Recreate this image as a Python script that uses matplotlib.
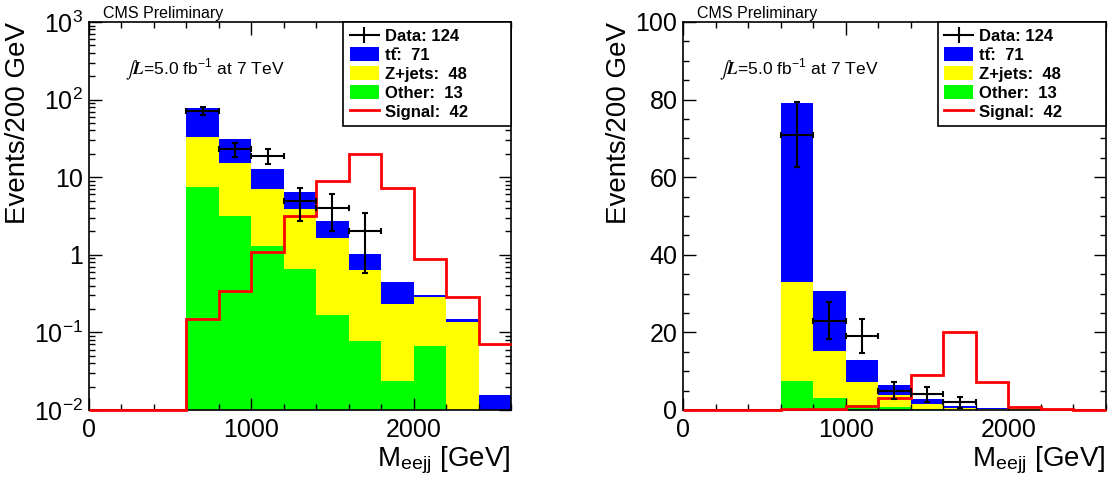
import numpy as np
import matplotlib
matplotlib.use("Agg")
import matplotlib.pyplot as plt
from matplotlib.ticker import MultipleLocator, LogLocator, FuncFormatter, NullFormatter
from matplotlib.patches import Patch
from matplotlib.lines import Line2D

plt.rcParams['font.family'] = ['Liberation Sans', 'DejaVu Sans']
plt.rcParams['mathtext.fontset'] = 'stix'

# --- data (M_eejj, 200 GeV bins from 0 to 2600) ---
bin_edges = [0, 200, 400, 600, 800, 1000, 1200, 1400, 1600, 1800, 2000, 2200, 2400, 2600]
ttbar = [0, 0, 0, 46.0, 15.5, 5.8, 2.45, 1.07, 0.39, 0.214, 0.018, 0.010, 0.0155]
zjets = [0, 0, 0, 25.5, 11.9, 5.79, 3.27, 1.49, 0.56, 0.208, 0.221, 0.137, 0]
other = [0, 0, 0, 7.5, 3.2, 1.31, 0.66, 0.166, 0.0775, 0.0239, 0.0668, 0, 0]
signal = [0, 0, 0, 0.149, 0.341, 1.08, 3.16, 8.93, 20.1, 7.26, 0.891, 0.286, 0.070]
data = [0, 0, 0, 71, 23, 19, 5, 4, 2, 0, 0, 0, 0]

legend_labels = ["Data: 124", "tt\u0304:  71", "Z+jets:  48", "Other:  13", "Signal:  42"]

edges = np.array(bin_edges, dtype=float)
lo = edges[:-1]
width = np.diff(edges)
centers = lo + width / 2
tt = np.array(ttbar); zj = np.array(zjets); ot = np.array(other)
sig = np.array(signal); dat = np.array(data, dtype=float)


def draw_panel(ax, logy):
    ymin = 0.01 if logy else 0.0
    # stack: other at bottom, then Z+jets, then ttbar
    ax.bar(lo, ot, width=width, align='edge', color='#00ff00', lw=0, zorder=1)
    ax.bar(lo, zj, width=width, bottom=ot, align='edge', color='#ffff00', lw=0, zorder=1)
    ax.bar(lo, tt, width=width, bottom=ot + zj, align='edge', color='#0000ff', lw=0, zorder=1)

    ax.stairs(np.maximum(sig, ymin), edges, baseline=None, color='red', lw=2,
              zorder=3, clip_on=False)

    m = dat > 0
    ax.errorbar(centers[m], dat[m], xerr=width[m] / 2, yerr=np.sqrt(dat[m]),
                fmt='none', ecolor='black', elinewidth=1.5, capsize=2.5,
                capthick=1.5, zorder=4)

    ax.set_xlim(0, 2600)
    ax.xaxis.set_major_locator(MultipleLocator(1000))
    ax.xaxis.set_minor_locator(MultipleLocator(200))
    if logy:
        ax.set_yscale('log')
        ax.set_ylim(0.01, 1000)
        ax.yaxis.set_major_locator(LogLocator(base=10, numticks=10))
        ax.yaxis.set_minor_locator(LogLocator(base=10, subs=np.arange(2, 10), numticks=20))
        ax.yaxis.set_minor_formatter(NullFormatter())

        def fmt(v, pos):
            if np.isclose(v, 1):
                return "1"
            if np.isclose(v, 10):
                return "10"
            return r"$\mathregular{10^{%d}}$" % int(round(np.log10(v)))
        ax.yaxis.set_major_formatter(FuncFormatter(fmt))
    else:
        ax.set_ylim(0, 100)
        ax.yaxis.set_major_locator(MultipleLocator(20))
        ax.yaxis.set_minor_locator(MultipleLocator(5))

    ax.tick_params(which='both', direction='in', top=True, right=True, width=1)
    ax.tick_params(which='major', length=9, labelsize=18, pad=4)
    ax.tick_params(which='minor', length=4.5)
    ax.tick_params(axis='x', which='major', pad=6)
    for s in ax.spines.values():
        s.set_linewidth(1.2)

    ax.set_xlabel(r"M$_{\mathregular{eejj}}$ [GeV]", fontsize=20, loc='right')
    ax.xaxis.set_label_coords(1.0, -0.09)
    ax.set_ylabel("Events/200 GeV", fontsize=20, loc='top')

    ax.text(0.033, 1.003, "CMS Preliminary", transform=ax.transAxes,
            fontsize=11.5, ha='left', va='bottom')
    ax.text(0.085, 0.876, r"$\int\mathbfit{L}$=5.0 fb$^{\mathregular{-1}}$ at 7 TeV",
            transform=ax.transAxes, fontsize=12.5, ha='left', va='center')

    handles = [Line2D([], [], color='black', lw=1.5, marker='|', markersize=11, mew=1.5),
               Patch(facecolor='#0000ff', edgecolor='none'),
               Patch(facecolor='#ffff00', edgecolor='none'),
               Patch(facecolor='#00ff00', edgecolor='none'),
               Line2D([], [], color='red', lw=2)]
    leg = ax.legend(handles, legend_labels, loc='upper right',
                    bbox_to_anchor=(0.602, 0.0, 0.398, 1.0), mode='expand',
                    borderaxespad=0, fancybox=False, framealpha=1, edgecolor='black',
                    prop={'weight': 'bold', 'size': 12}, handlelength=1.75,
                    handleheight=0.9, labelspacing=0.19, borderpad=0.4,
                    handletextpad=0.36)
    leg.get_frame().set_linewidth(1.2)
    leg.set_zorder(5)


fig = plt.figure(figsize=(11.12, 4.84), dpi=100)
ax1 = fig.add_axes([0.0800, 0.1529, 0.3795, 0.8017])
ax2 = fig.add_axes([0.6142, 0.1529, 0.3804, 0.8017])

draw_panel(ax1, True)
ax1.yaxis.set_label_coords(-0.137, 1.0)
draw_panel(ax2, False)
ax2.yaxis.set_label_coords(-0.12, 1.0)

fig.savefig("out.png", dpi=100)
